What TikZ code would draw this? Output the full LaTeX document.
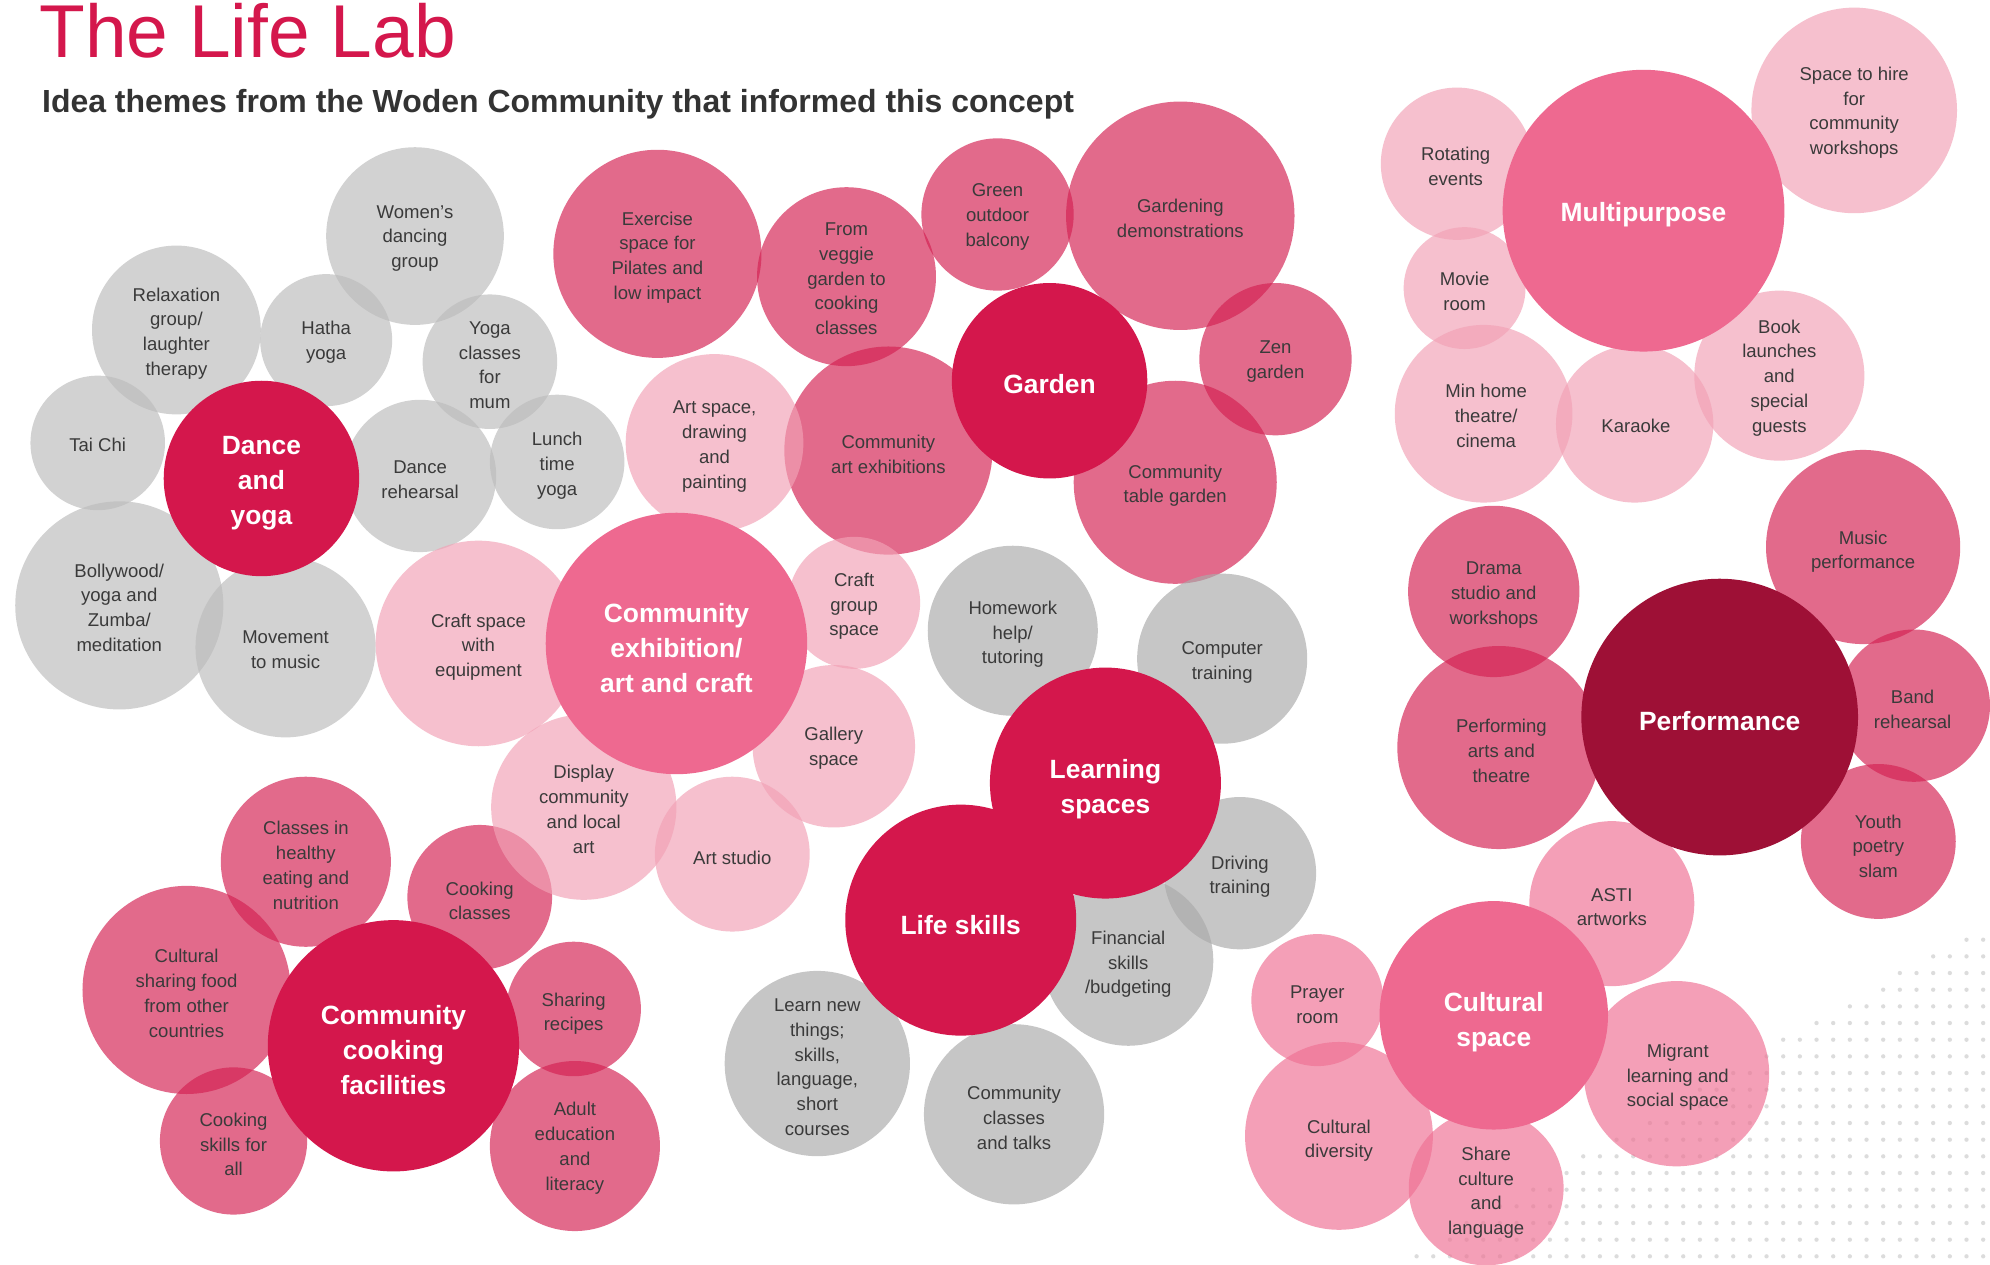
\documentclass[tikz,border=0pt]{standalone}
\usepackage{fontspec}
\setmainfont{Liberation Sans}
\definecolor{gL}{RGB}{189,189,189}
\definecolor{gC}{RGB}{171,171,171}
\definecolor{pkM}{RGB}{212,34,83}
\definecolor{pkL}{RGB}{242,162,182}
\definecolor{pkA}{RGB}{239,113,148}
\definecolor{redM}{RGB}{212,23,76}
\definecolor{pkB}{RGB}{238,105,144}
\definecolor{perf}{RGB}{158,16,54}
\definecolor{txtc}{RGB}{58,58,58}
\definecolor{subc}{RGB}{51,51,51}
\definecolor{dotc}{RGB}{220,220,220}
\tikzset{
  bub/.style={circle, inner sep=0pt, draw=none, fill opacity=0.67},
  mainbub/.style={circle, inner sep=0pt, draw=none},
  tx/.style={align=center, text=txtc, font=\fontsize{14.6}{19.5}\selectfont, inner sep=0pt, yshift=-1.8pt},
  tb/.style={align=center, text=white, font=\fontsize{20.8}{27.6}\selectfont\bfseries, inner sep=0pt, yshift=-2.5pt},
  gl/.style={bub, fill=gL},
  gc/.style={bub, fill=gC},
  pm/.style={bub, fill=pkM},
  pl/.style={bub, fill=pkL},
  pa/.style={bub, fill=pkA},
  d/.style={minimum size=#1pt}
}
\begin{document}
\begin{tikzpicture}[x=1pt,y=-1pt]
\useasboundingbox (0,0) rectangle (1568,996);
\fill[white] (0,0) rectangle (1568,996);
% dot pattern
\foreach \i in {0,...,36}{
  \foreach \j in {0,...,21}{
    \pgfmathsetmacro\xx{1562.6-13.13*\i}
    \pgfmathsetmacro\yy{727.3+13.13*\j}
    \pgfmathtruncatemacro\ok{(\yy > 725+0.578*(1568-\xx)) ? 1 : 0}
    \ifnum\ok=1 \fill[dotc] (\xx,\yy) circle (1.7pt); \fi
  }
}
% titles
\node[anchor=base west, inner sep=0pt, text=redM, font=\fontsize{59}{62}\selectfont] (title) at (31,45) {The Life Lab};
\node[anchor=base west, inner sep=0pt, text=subc, font=\fontsize{25.2}{28}\selectfont\bfseries] (subtitle) at (33,89) {Idea themes from the Woden Community that informed this concept};
% grey left
\node[gl,d=140] (wdg) at (327,186) {};
\node[gl,d=133] (rel) at (139,260) {};
\node[gl,d=104] (hat) at (257,268) {};
\node[gl,d=106] (yog) at (386,285) {};
\node[gl,d=106] (tai) at (77,349) {};
\node[gl,d=120] (drh) at (331,375) {};
\node[gl,d=106] (lun) at (439,364) {};
\node[gl,d=164] (bol) at (94,477) {};
\node[gl,d=142] (mov) at (225,510) {};
% medium pink
\node[pm,d=164] (exe) at (518,200) {};
\node[pm,d=141] (veg) at (667,218) {};
\node[pm,d=120] (grn) at (786,169) {};
\node[pm,d=180] (gdm) at (930,170) {};
\node[pm,d=120] (zen) at (1005,283) {};
\node[pm,d=164] (cae) at (700,355) {};
\node[pm,d=160] (ctg) at (926,380) {};
\node[pm,d=134] (chl) at (241,679) {};
\node[pm,d=114] (ckc) at (378,707) {};
\node[pm,d=164] (csf) at (147,780) {};
\node[pm,d=106] (shr) at (452,795) {};
\node[pm,d=116] (cka) at (184,899) {};
\node[pm,d=134] (adu) at (453,903) {};
\node[pm,d=135] (drm) at (1177,466) {};
\node[pm,d=153] (mus) at (1468,431) {};
\node[pm,d=160] (pat) at (1181,589) {};
\node[pm,d=120] (bnd) at (1508,556) {};
\node[pm,d=122] (yth) at (1480,663) {};
% light pink
\node[pl,d=140] (art) at (563,349) {};
\node[pl,d=162] (csw) at (377,507) {};
\node[pl,d=104] (cgs) at (673,475) {};
\node[pl,d=128] (gal) at (657,588) {};
\node[pl,d=146] (dsp) at (460,636) {};
\node[pl,d=122] (ast) at (577,673) {};
\node[pl,d=120] (rot) at (1148,129) {};
\node[pl,d=96]  (mvr) at (1154,227) {};
\node[pl,d=140] (mhm) at (1169,326) {};
\node[pl,d=124] (kar) at (1288,334) {};
\node[pl,d=134] (bkl) at (1402,296) {};
\node[pl,d=162] (hir) at (1461,87) {};
% mid pink
\node[pa,d=130] (asti) at (1270,712) {};
\node[pa,d=104] (pry) at (1038,788) {};
\node[pa,d=146] (mig) at (1321,846) {};
\node[pa,d=148] (cdv) at (1055,895) {};
\node[pa,d=122] (shc) at (1171,936) {};
% grey centre
\node[gc,d=134] (hom) at (798,497) {};
\node[gc,d=134] (cmp) at (963,519) {};
\node[gc,d=120] (drv) at (977,688) {};
\node[gc,d=134] (fin) at (889,757) {};
\node[gc,d=146] (lrn) at (644,838) {};
\node[gc,d=142] (ccl) at (799,878) {};
% main bubbles
\node[mainbub,fill=redM,d=154] (dan) at (206,377) {};
\node[mainbub,fill=redM,d=154] (gar) at (827,300) {};
\node[mainbub,fill=pkB,d=206] (cex) at (533,507) {};
\node[mainbub,fill=redM,d=182] (lsp) at (871,617) {};
\node[mainbub,fill=redM,d=182] (lsk) at (757,725) {};
\node[mainbub,fill=redM,d=198] (ccf) at (310,824) {};
\node[mainbub,fill=pkB,d=222] (mul) at (1295,166) {};
\node[mainbub,fill=perf,d=218] (prf) at (1355,565) {};
\node[mainbub,fill=pkB,d=180] (csp) at (1177,800) {};
% texts
\node[tx] (wdg-t) at (327,186) {Women’s\\dancing\\group};
\node[tx] (rel-t) at (139,261) {Relaxation\\group/\\laughter\\therapy};
\node[tx] (hat-t) at (257,268) {Hatha\\yoga};
\node[tx] (yog-t) at (386,286) {Yoga\\classes\\for\\mum};
\node[tx] (tai-t) at (77,349) {Tai Chi};
\node[tx] (drh-t) at (331,376) {Dance\\rehearsal};
\node[tx] (lun-t) at (439,365) {Lunch\\time\\yoga};
\node[tx] (bol-t) at (94,477) {Bollywood/\\yoga and\\Zumba/\\meditation};
\node[tx] (mov-t) at (225,510) {Movement\\to music};
\node[tb] (dan-t) at (206,378) {Dance\\and\\yoga};
\node[tx] (exe-t) at (518,201) {Exercise\\space for\\Pilates and\\low impact};
\node[tx] (veg-t) at (667,218) {From\\veggie\\garden to\\cooking\\classes};
\node[tx] (grn-t) at (786,169) {Green\\outdoor\\balcony};
\node[tx] (gdm-t) at (930,170) {Gardening\\demonstrations};
\node[tb] (gar-t) at (827,300) {Garden};
\node[tx] (zen-t) at (1005,283) {Zen\\garden};
\node[tx] (cae-t) at (700,356) {Community\\art exhibitions};
\node[tx] (ctg-t) at (926,381) {Community\\table garden};
\node[tx] (art-t) at (563,350) {Art space,\\drawing\\and\\painting};
\node[tb] (cex-t) at (533,508) {Community\\exhibition/\\art and craft};
\node[tx] (csw-t) at (377,508) {Craft space\\with\\equipment};
\node[tx] (cgs-t) at (673,476) {Craft\\group\\space};
\node[tx] (gal-t) at (657,588) {Gallery\\space};
\node[tx] (dsp-t) at (460,636) {Display\\community\\and local\\art};
\node[tx] (ast-t) at (577,674) {Art studio};
\node[tx] (hom-t) at (798,498) {Homework\\help/\\tutoring};
\node[tx] (cmp-t) at (963,520) {Computer\\training};
\node[tb] (lsp-t) at (871,619) {Learning\\spaces};
\node[tb] (lsk-t) at (757,726) {Life skills};
\node[tx] (drv-t) at (977,689) {Driving\\training};
\node[tx] (fin-t) at (889,758) {Financial\\skills\\/budgeting};
\node[tx] (lrn-t) at (644,839) {Learn new\\things;\\skills,\\language,\\short\\courses};
\node[tx] (ccl-t) at (799,879) {Community\\classes\\and talks};
\node[tx] (chl-t) at (241,680) {Classes in\\healthy\\eating and\\nutrition};
\node[tx] (ckc-t) at (378,708) {Cooking\\classes};
\node[tx] (csf-t) at (147,781) {Cultural\\sharing food\\from other\\countries};
\node[tb] (ccf-t) at (310,825) {Community\\cooking\\facilities};
\node[tx] (shr-t) at (452,797) {Sharing\\recipes};
\node[tx] (cka-t) at (184,900) {Cooking\\skills for\\all};
\node[tx] (adu-t) at (453,903) {Adult\\education\\and\\literacy};
\node[tx] (rot-t) at (1147,129) {Rotating\\events};
\node[tb] (mul-t) at (1295,167) {Multipurpose};
\node[tx] (hir-t) at (1461,87) {Space to hire\\for\\community\\workshops};
\node[tx] (mvr-t) at (1154,228) {Movie\\room};
\node[tx] (mhm-t) at (1171,326) {Min home\\theatre/\\cinema};
\node[tx] (kar-t) at (1289,334) {Karaoke};
\node[tx] (bkl-t) at (1402,296) {Book\\launches\\and\\special\\guests};
\node[tx] (drm-t) at (1177,467) {Drama\\studio and\\workshops};
\node[tx] (mus-t) at (1468,433) {Music\\performance};
\node[tx] (pat-t) at (1183,590) {Performing\\arts and\\theatre};
\node[tb] (prf-t) at (1355,566) {Performance};
\node[tx] (bnd-t) at (1507,557) {Band\\rehearsal};
\node[tx] (yth-t) at (1480,665) {Youth\\poetry\\slam};
\node[tx] (asti-t) at (1270,713) {ASTI\\artworks};
\node[tx] (pry-t) at (1038,790) {Prayer\\room};
\node[tb] (csp-t) at (1177,803) {Cultural\\space};
\node[tx] (mig-t) at (1322,847) {Migrant\\learning and\\social space};
\node[tx] (cdv-t) at (1055,897) {Cultural\\diversity};
\node[tx] (shc-t) at (1171,938) {Share\\culture\\and\\language};
\end{tikzpicture}
\end{document}
